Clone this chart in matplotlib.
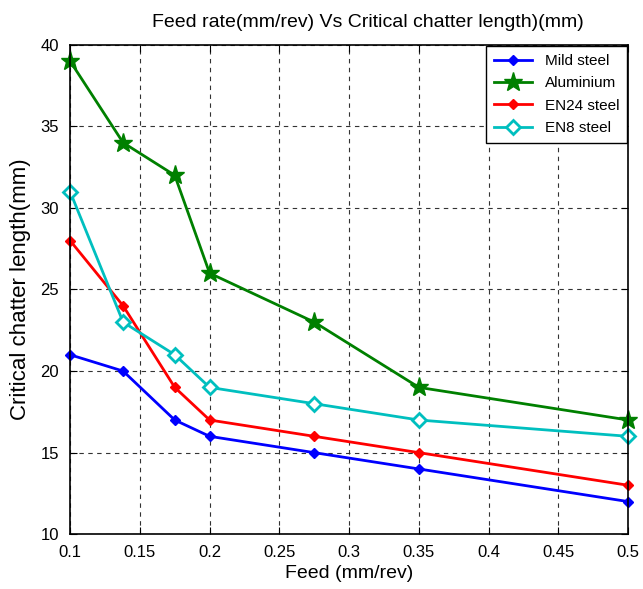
import matplotlib
matplotlib.use("Agg")
import matplotlib.pyplot as plt

plt.rcParams["font.family"] = ["Liberation Sans", "DejaVu Sans"]

feed = [0.1, 0.138, 0.175, 0.2, 0.275, 0.35, 0.5]
mild_steel = [21, 20, 17, 16, 15, 14, 12]
aluminium = [39, 34, 32, 26, 23, 19, 17]
en24_steel = [28, 24, 19, 17, 16, 15, 13]
en8_steel = [31, 23, 21, 19, 18, 17, 16]

fig = plt.figure(figsize=(6.43, 5.89), dpi=100)
ax = fig.add_axes([0.109, 0.093, 0.868, 0.831])

ax.plot(feed, mild_steel, color="#0000ff", marker="D", markersize=5, lw=2,
        label="Mild steel", clip_on=False)
ax.plot(feed, aluminium, color="#008000", marker="*", markersize=14, lw=2,
        label="Aluminium", clip_on=False)
ax.plot(feed, en24_steel, color="#ff0000", marker="D", markersize=5, lw=2,
        label="EN24 steel", clip_on=False)
ax.plot(feed, en8_steel, color="#00bfbf", marker="D", markersize=7, lw=2,
        markerfacecolor="white", markeredgewidth=2, label="EN8 steel", clip_on=False)

ax.set_xlim(0.1, 0.5)
ax.set_ylim(10, 40)
ax.set_xticks([0.1, 0.15, 0.2, 0.25, 0.3, 0.35, 0.4, 0.45, 0.5])
ax.set_xticklabels(["0.1", "0.15", "0.2", "0.25", "0.3", "0.35", "0.4", "0.45", "0.5"])
ax.set_yticks(range(10, 41, 5))
ax.grid(True, color="#333333", linestyle=(0, (4, 4)), linewidth=0.8)
ax.tick_params(direction="in", labelsize=12, top=True, right=True, length=5)
ax.tick_params(axis="x", pad=8)
ax.tick_params(axis="y", pad=8)
for s in ax.spines.values():
    s.set_linewidth(1.2)

ax.set_title("Feed rate(mm/rev) Vs Critical chatter length)(mm)", fontsize=14, pad=13, x=0.534)
ax.set_xlabel("Feed (mm/rev)", fontsize=14, labelpad=3)
ax.set_ylabel("Critical chatter length(mm)", fontsize=16, labelpad=7)

leg = ax.legend(loc="upper right", fontsize=11, fancybox=False, framealpha=1,
                edgecolor="black", borderaxespad=0.1, handlelength=2.5,
                labelspacing=0.55, borderpad=0.5)
leg.get_frame().set_linewidth(1.0)

fig.savefig("out.png", dpi=100)
